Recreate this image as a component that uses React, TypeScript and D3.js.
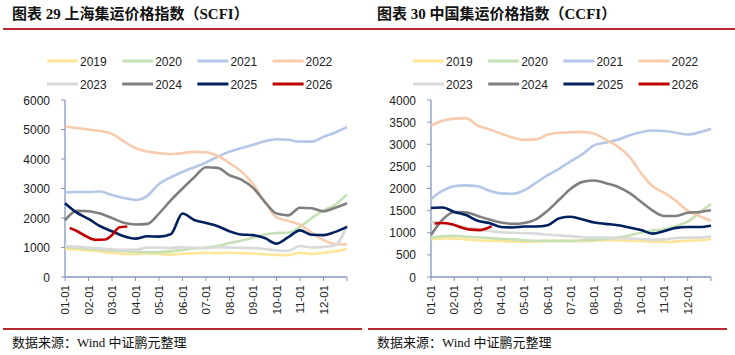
import React from "react";
import * as d3 from "d3";

// ---------- data (values on a half-month grid: 0, 0.5, ... 12 months) ----------
const years = ["2019", "2020", "2021", "2022", "2023", "2024", "2025", "2026"];
const yearColors = ["#FFE699", "#C5E0B4", "#B4C7E7", "#F8CBAD", "#D9D9D9", "#7F7F7F", "#002060", "#C00000"];
const monthLabels = ["01-01", "02-01", "03-01", "04-01", "05-01", "06-01", "07-01", "08-01", "09-01", "10-01", "11-01", "12-01"];
const gridMonths = d3.range(0, 12.01, 0.5);

// SCFI
const scfi2019 = [950, 930, 900, 870, 820, 780, 780, 800, 790, 760, 790, 800, 820, 810, 820, 810, 790, 770, 750, 740, 820, 780, 820, 870, 950];
const scfi2020 = [1020, 990, 960, 930, 900, 880, 860, 840, 850, 870, 920, 970, 1000, 1050, 1150, 1230, 1330, 1440, 1490, 1500, 1700, 2000, 2250, 2450, 2800];
const scfi2021 = [2870, 2880, 2880, 2900, 2780, 2680, 2610, 2750, 3150, 3380, 3560, 3720, 3880, 4080, 4250, 4370, 4480, 4600, 4670, 4650, 4590, 4590, 4750, 4900, 5080];
const scfi2022 = [5100, 5050, 5000, 4950, 4850, 4600, 4370, 4250, 4200, 4160, 4200, 4240, 4230, 4100, 3860, 3580, 3150, 2550, 2020, 1900, 1770, 1500, 1250, 1120, 1100];
const scfi2023 = [1050, 1030, 1000, 970, 940, 920, 920, 1000, 1000, 980, 1010, 990, 980, 1000, 1000, 990, 980, 950, 900, 890, 1050, 1000, 1020, 1080, 1750];
const scfi2024 = [1920, 2240, 2230, 2150, 2000, 1840, 1780, 1800, 2150, 2600, 3000, 3380, 3720, 3700, 3450, 3300, 3020, 2550, 2150, 2090, 2350, 2330, 2230, 2350, 2500];
const scfi2025 = [2500, 2180, 1970, 1720, 1550, 1380, 1300, 1380, 1370, 1450, 2150, 1930, 1830, 1720, 1550, 1440, 1420, 1320, 1130, 1350, 1580, 1430, 1420, 1530, 1700];
const scfi2026Months = [0.2, 0.5, 0.9, 1.3, 1.7, 2.0, 2.3, 2.65];
const scfi2026 = [1660, 1560, 1380, 1260, 1270, 1420, 1680, 1710];

// CCFI
const ccfi2019 = [850, 870, 870, 850, 830, 820, 810, 800, 800, 800, 810, 810, 810, 810, 820, 830, 830, 820, 810, 800, 790, 800, 820, 830, 860];
const ccfi2020 = [880, 920, 930, 910, 900, 880, 860, 850, 830, 820, 820, 820, 820, 830, 840, 860, 890, 940, 1000, 1050, 1080, 1150, 1250, 1450, 1650];
const ccfi2021 = [1760, 1950, 2050, 2070, 2050, 1950, 1890, 1880, 1960, 2130, 2300, 2450, 2620, 2780, 2980, 3040, 3100, 3200, 3270, 3310, 3300, 3260, 3220, 3270, 3350];
const ccfi2022 = [3420, 3530, 3580, 3590, 3420, 3340, 3240, 3150, 3100, 3110, 3220, 3260, 3270, 3280, 3240, 3100, 2950, 2720, 2350, 2050, 1900, 1720, 1500, 1380, 1270];
const ccfi2023 = [1250, 1220, 1170, 1120, 1080, 1040, 1010, 1000, 990, 980, 960, 940, 920, 900, 890, 890, 880, 870, 860, 840, 850, 880, 890, 890, 920];
const ccfi2024 = [950, 1300, 1470, 1460, 1380, 1300, 1230, 1200, 1220, 1300, 1500, 1750, 2000, 2150, 2180, 2120, 2040, 1900, 1700, 1500, 1380, 1380, 1450, 1470, 1510];
const ccfi2025 = [1560, 1570, 1470, 1400, 1270, 1220, 1130, 1120, 1140, 1140, 1170, 1330, 1360, 1300, 1230, 1200, 1170, 1120, 1060, 980, 1040, 1110, 1130, 1130, 1160];
const ccfi2026Months = [0.15, 0.5, 0.9, 1.3, 1.7, 2.1, 2.4, 2.6];
const ccfi2026 = [1210, 1220, 1190, 1120, 1070, 1060, 1100, 1150];

const scfiTicks = [0, 1000, 2000, 3000, 4000, 5000, 6000];
const ccfiTicks = [0, 500, 1000, 1500, 2000, 2500, 3000, 3500, 4000];

type Pt = { m: number; v: number };
const onGrid = (vals: number[]): Pt[] => vals.map((v, i) => ({ m: gridMonths[i], v }));
const withMonths = (ms: number[], vals: number[]): Pt[] => vals.map((v, i) => ({ m: ms[i], v }));

const scfiSeries: Pt[][] = [
  onGrid(scfi2019), onGrid(scfi2020), onGrid(scfi2021), onGrid(scfi2022),
  onGrid(scfi2023), onGrid(scfi2024), onGrid(scfi2025), withMonths(scfi2026Months, scfi2026),
];
const ccfiSeries: Pt[][] = [
  onGrid(ccfi2019), onGrid(ccfi2020), onGrid(ccfi2021), onGrid(ccfi2022),
  onGrid(ccfi2023), onGrid(ccfi2024), onGrid(ccfi2025), withMonths(ccfi2026Months, ccfi2026),
];

const RED = "#B8282E";
const AXIS = "#8496BE";
const LABEL_FONT = "'Liberation Sans', Arial, sans-serif";
const TITLE_FONT = "'Liberation Serif', 'Noto Sans CJK SC', serif";

type PanelProps = {
  left: number;
  width: number;
  title: string;
  series: Pt[][];
  ticks: number[];
  plotX0: number;
  plotX1: number;
  legendX: number;
};

function Panel({ left, width, title, series, ticks, plotX0, plotX1, legendX }: PanelProps) {
  const yTop = 100;
  const yBottom = 277;
  const x = d3.scaleLinear().domain([0, 12]).range([plotX0, plotX1]);
  const y = d3.scaleLinear().domain([0, d3.max(ticks) as number]).range([yBottom, yTop]);
  const line = d3
    .line<Pt>()
    .x((d) => x(d.m))
    .y((d) => y(d.v))
    .curve(d3.curveMonotoneX);
  const legendStep = 75.2;
  return (
    <g>
      <text x={left + 10} y={19} fontFamily={TITLE_FONT} fontWeight="bold" fontSize={15} fill="#111">
        {title}
      </text>
      <line x1={left + 1} x2={left + width} y1={29} y2={29} stroke={RED} strokeWidth={2} />

      {/* legend */}
      {years.map((yr, i) => {
        const col = i % 4;
        const row = Math.floor(i / 4);
        const lx = legendX + col * legendStep;
        const ly = row === 0 ? 61 : 84;
        return (
          <g key={yr}>
            <line x1={lx} x2={lx + 31} y1={ly} y2={ly} stroke={yearColors[i]} strokeWidth={3} />
            <text x={lx + 33} y={ly + 4.5} fontFamily={LABEL_FONT} fontSize={12} fill="#222">
              {yr}
            </text>
          </g>
        );
      })}

      {/* y axis */}
      <line x1={plotX0} x2={plotX0} y1={yTop} y2={yBottom} stroke={AXIS} strokeWidth={1.3} />
      {ticks.map((t) => (
        <g key={t}>
          <line x1={plotX0 - 4} x2={plotX0} y1={y(t)} y2={y(t)} stroke={AXIS} strokeWidth={1} />
          <text x={plotX0 - 15} y={y(t) + 4.5} textAnchor="end" fontFamily={LABEL_FONT} fontSize={12} fill="#222">
            {t}
          </text>
        </g>
      ))}

      {/* x axis */}
      <line x1={plotX0} x2={plotX1} y1={yBottom} y2={yBottom} stroke={AXIS} strokeWidth={1.3} />
      {d3.range(0, 13).map((m) => (
        <line key={m} x1={x(m)} x2={x(m)} y1={yBottom} y2={yBottom + 4} stroke={AXIS} strokeWidth={1} />
      ))}
      {monthLabels.map((lab, m) => (
        <text
          key={lab}
          transform={`translate(${x(m) + 4},${yBottom + 8}) rotate(-90)`}
          textAnchor="end"
          fontFamily={LABEL_FONT}
          fontSize={11.5}
          fill="#222"
        >
          {lab}
        </text>
      ))}

      {/* lines */}
      {series.map((s, i) => (
        <path key={i} d={line(s) || ""} fill="none" stroke={yearColors[i]} strokeWidth={2.6} strokeLinejoin="round" />
      ))}

      <line x1={left + 1} x2={left + width - 8} y1={329} y2={329} stroke={RED} strokeWidth={2} />
      <text x={left + 10} y={347} fontFamily={TITLE_FONT} fontSize={13} fill="#111">
        数据来源：Wind 中证鹏元整理
      </text>
    </g>
  );
}

export default function App() {
  return (
    <svg
      width={735}
      height={355}
      style={{ position: "absolute", left: 0, top: 0, background: "#fff" }}
    >
      <rect x={0} y={0} width={735} height={355} fill="#fff" />
      <Panel
        left={2}
        width={368}
        title="图表 29 上海集运价格指数（SCFI）"
        series={scfiSeries}
        ticks={scfiTicks}
        plotX0={65}
        plotX1={347}
        legendX={47}
      />
      <Panel
        left={367}
        width={368}
        title="图表 30 中国集运价格指数（CCFI）"
        series={ccfiSeries}
        ticks={ccfiTicks}
        plotX0={431}
        plotX1={711}
        legendX={413}
      />
    </svg>
  );
}
